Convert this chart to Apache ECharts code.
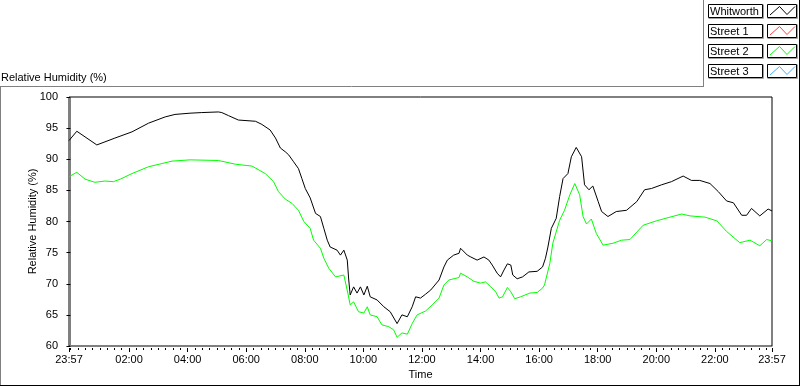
<!DOCTYPE html>
<html lang="en">
<head>
<meta charset="UTF-8">
<title>Relative Humidity</title>
<script src="https://cdn.jsdelivr.net/npm/echarts@6/dist/echarts.min.js"></script>
<style>
    html, body { margin: 0; padding: 0; background: #fff; }
    #chart { width: 800px; height: 386px; }
</style>
</head>
<body>
<div id="chart"></div>
<script>
// time = minutes from midnight (-3 is 23:57 the day before)
var whitworthTime = [-3, 13, 54, 91, 126, 160, 194, 214, 245, 269, 303, 310, 324, 344, 379, 392, 409, 420, 430, 440,
    447, 457, 467, 474, 481, 491, 502, 512, 519, 526, 532, 546, 553, 560, 567, 570, 573, 580, 587, 594,
    601, 608, 614, 628, 642, 655, 669, 679, 690, 700, 707, 717, 727, 738, 755, 765, 772, 785, 796, 799,
    813, 820, 833, 847, 857, 864, 874, 881, 888, 895, 902, 906, 915, 926, 939, 956, 967, 973, 978, 985,
    995, 1002, 1009, 1019, 1026, 1036, 1047, 1053, 1062, 1070, 1081, 1088, 1101, 1118, 1139, 1160, 1176, 1190, 1211, 1231,
    1255, 1272, 1289, 1310, 1327, 1344, 1358, 1375, 1385, 1395, 1412, 1429, 1437];
var whitworthRH = [93.0, 94.5, 92.3, 93.4, 94.4, 95.8, 96.8, 97.2, 97.4, 97.5, 97.6, 97.5, 97.0, 96.3, 96.1, 95.6, 94.7, 93.4, 91.8, 91.2,
    90.7, 89.6, 88.5, 86.9, 85.3, 83.8, 81.3, 80.8, 78.9, 77.0, 75.9, 75.4, 74.6, 75.4, 73.8, 70.6, 68.2, 69.5, 68.5, 69.5,
    68.2, 69.6, 67.9, 67.4, 66.3, 65.5, 63.6, 65.0, 64.7, 66.3, 67.9, 67.7, 68.3, 69.0, 70.6, 72.7, 73.8, 74.6, 74.9, 75.7,
    74.6, 74.3, 73.8, 74.3, 73.8, 73.0, 71.7, 71.1, 72.2, 73.2, 73.0, 71.4, 70.8, 71.1, 71.9, 72.0, 72.7, 74.1, 75.9, 78.9,
    80.5, 84.0, 86.9, 87.7, 90.4, 91.9, 90.4, 85.9, 85.1, 85.7, 83.2, 81.6, 80.8, 81.6, 81.8, 83.2, 85.1, 85.3, 85.9, 86.4,
    87.3, 86.6, 86.6, 86.1, 84.8, 83.3, 83.0, 81.0, 81.0, 82.1, 80.9, 82.0, 81.7];

var street2Time = [-3, 13, 30, 50, 71, 88, 102, 126, 160, 187, 208, 245, 303, 338, 372, 399, 416, 426, 440, 454,
    467, 478, 491, 498, 512, 519, 529, 543, 560, 563, 569, 573, 580, 590, 601, 608, 614, 628, 638, 652,
    662, 669, 679, 690, 700, 710, 727, 741, 755, 765, 775, 796, 799, 813, 826, 840, 850, 861, 871, 878,
    885, 895, 902, 910, 922, 941, 956, 967, 971, 982, 988, 1002, 1012, 1023, 1033, 1043, 1050, 1057, 1067, 1077,
    1091, 1111, 1129, 1146, 1173, 1200, 1228, 1252, 1269, 1300, 1324, 1344, 1371, 1392, 1412, 1426, 1437];
var street2RH = [87.2, 87.9, 86.8, 86.3, 86.5, 86.4, 86.8, 87.7, 88.8, 89.3, 89.7, 89.9, 89.8, 89.2, 88.9, 87.7, 86.4, 84.8, 83.6, 82.9,
    81.8, 80.0, 78.9, 77.0, 75.7, 74.1, 72.5, 71.1, 71.4, 71.1, 68.2, 66.6, 67.1, 65.5, 65.3, 66.3, 65.0, 64.7, 63.4, 63.1,
    62.6, 61.4, 62.1, 61.9, 63.6, 65.0, 65.6, 66.6, 67.7, 69.8, 70.6, 71.0, 71.7, 71.1, 70.4, 70.1, 70.3, 69.5, 68.7, 67.7,
    67.9, 69.4, 68.7, 67.6, 67.9, 68.5, 68.6, 69.3, 69.8, 73.3, 76.5, 80.2, 81.8, 84.3, 86.1, 84.3, 80.8, 79.6, 80.4, 78.1,
    76.2, 76.5, 77.0, 77.1, 79.4, 80.1, 80.7, 81.2, 80.9, 80.7, 80.1, 78.4, 76.6, 77.0, 76.1, 77.1, 76.9];

var majorTicks = [-3, 120, 240, 360, 480, 600, 720, 840, 960, 1080, 1200, 1320, 1437];
var minorTicks = [];
for (var m = 0; m <= 1425; m += 15) { minorTicks.push(m); }

var legendNames = ['Whitworth', 'Street 1', 'Street 2', 'Street 3'];
var legendColors = ['#000000', '#ff4040', '#00ff00', '#40b0ff'];

function pairs(t, v) {
    var out = [];
    for (var i = 0; i < t.length; i++) { out.push([t[i], v[i]]); }
    return out;
}

function clock(val) {
    var m = Math.round(val);
    if (m < 0) m += 1440;
    var h = Math.floor(m / 60), mm = m % 60;
    return (h < 10 ? '0' : '') + h + ':' + (mm < 10 ? '0' : '') + mm;
}

var font = 'Liberation Sans';

// legend drawn as LabVIEW style boxes
var graphics = [
    { type: 'line', shape: { x1: 0, y1: 86.5, x2: 703, y2: 86.5 }, style: { stroke: '#808080', lineWidth: 1 } },
    { type: 'line', shape: { x1: 703.5, y1: 0, x2: 703.5, y2: 87 }, style: { stroke: '#808080', lineWidth: 1 } },
    { type: 'line', shape: { x1: 0.5, y1: 86, x2: 0.5, y2: 386 }, style: { stroke: '#808080', lineWidth: 1 } },
    { type: 'line', shape: { x1: 0, y1: 385.5, x2: 800, y2: 385.5 }, style: { stroke: '#000', lineWidth: 1 } },
    { type: 'line', shape: { x1: 799.5, y1: 0, x2: 799.5, y2: 386 }, style: { stroke: '#000', lineWidth: 1 } }
];
legendNames.forEach(function (name, i) {
    var y0 = 4.5 + i * 20;
    graphics.push({ type: 'rect', shape: { x: 708.5, y: y0, width: 54, height: 13 },
        style: { fill: '#fff', stroke: '#000', lineWidth: 1 } });
    graphics.push({ type: 'polyline', shape: { points: [[763.5, y0], [763.5, y0 + 14], [708.5, y0 + 14]] },
        style: { fill: null, stroke: '#a0a0a0', lineWidth: 1 } });
    graphics.push({ type: 'text', x: 710, y: y0 + 7, style: { text: name, font: '11px "' + font + '"',
        fill: '#000', verticalAlign: 'middle' } });
    graphics.push({ type: 'rect', shape: { x: 767.5, y: y0, width: 29, height: 13 },
        style: { fill: '#fff', stroke: '#000', lineWidth: 1 } });
    graphics.push({ type: 'polyline', shape: { points: [[797.5, y0], [797.5, y0 + 14], [767.5, y0 + 14]] },
        style: { fill: null, stroke: '#a0a0a0', lineWidth: 1 } });
    graphics.push({ type: 'polyline', shape: { points: [[770, y0 + 10.5], [779.5, y0 + 2], [787, y0 + 10], [795, y0 + 2]] },
        style: { fill: null, stroke: legendColors[i], lineWidth: 1 } });
});

var chart = echarts.init(document.getElementById('chart'));
chart.setOption({
    animation: false,
    backgroundColor: '#fff',
    textStyle: { fontFamily: font },
    title: {
        text: 'Relative Humidity (%)', left: 1, top: 72, padding: 0,
        textStyle: { fontSize: 11, fontWeight: 'normal', color: '#000', fontFamily: font }
    },
    grid: { left: 69, right: 28, top: 97, bottom: 40, show: true, borderColor: '#000', borderWidth: 1, backgroundColor: '#fff' },
    xAxis: [{
        type: 'value', min: -3, max: 1437, position: 'bottom',
        axisLine: { show: true, lineStyle: { color: '#808080', width: 1 } },
        axisTick: { show: false }, axisLabel: { show: false }, splitLine: { show: false }
    }, {
        type: 'value', min: -3, max: 1437, position: 'bottom', offset: 2,
        axisLine: { show: false },
        axisTick: { show: true, length: 4, customValues: majorTicks, lineStyle: { color: '#000' } },
        axisLabel: { show: true, customValues: majorTicks, formatter: clock, margin: 6, fontSize: 11, color: '#000', fontFamily: font },
        splitLine: { show: false },
        name: 'Time', nameLocation: 'middle', nameGap: 21, nameMoveOverlap: false,
        nameTextStyle: { fontSize: 11, color: '#000', fontFamily: font }
    }, {
        type: 'value', min: -3, max: 1437, position: 'bottom', offset: 2,
        axisLine: { show: false },
        axisTick: { show: true, length: 2, customValues: minorTicks, lineStyle: { color: '#000' } },
        axisLabel: { show: false }, splitLine: { show: false }
    }],
    yAxis: [{
        type: 'value', min: 60, max: 100, interval: 5, position: 'left', offset: 6,
        axisLine: { show: false },
        axisTick: { show: true, length: 4, lineStyle: { color: '#000' } },
        axisLabel: { margin: 5, fontSize: 11, color: '#000', fontFamily: font },
        splitLine: { show: false },
        name: 'Relative Humidity (%)', nameLocation: 'middle', nameGap: 25, nameMoveOverlap: false,
        nameTextStyle: { fontSize: 11, color: '#000', fontFamily: font }
    }, {
        type: 'value', min: 60, max: 100, position: 'right',
        axisLine: { show: true, lineStyle: { color: '#808080', width: 1 } },
        axisTick: { show: false }, axisLabel: { show: false }, splitLine: { show: false }
    }],
    series: [{
        name: 'Whitworth', type: 'line', xAxisIndex: 0, yAxisIndex: 0,
        data: pairs(whitworthTime, whitworthRH), showSymbol: false, symbol: 'none',
        lineStyle: { color: '#000', width: 1 }, itemStyle: { color: '#000' }
    }, {
        name: 'Street 2', type: 'line', xAxisIndex: 0, yAxisIndex: 0,
        data: pairs(street2Time, street2RH), showSymbol: false, symbol: 'none',
        lineStyle: { color: '#00ff00', width: 1 }, itemStyle: { color: '#00ff00' }
    }],
    graphic: graphics
});
</script>
</body>
</html>
